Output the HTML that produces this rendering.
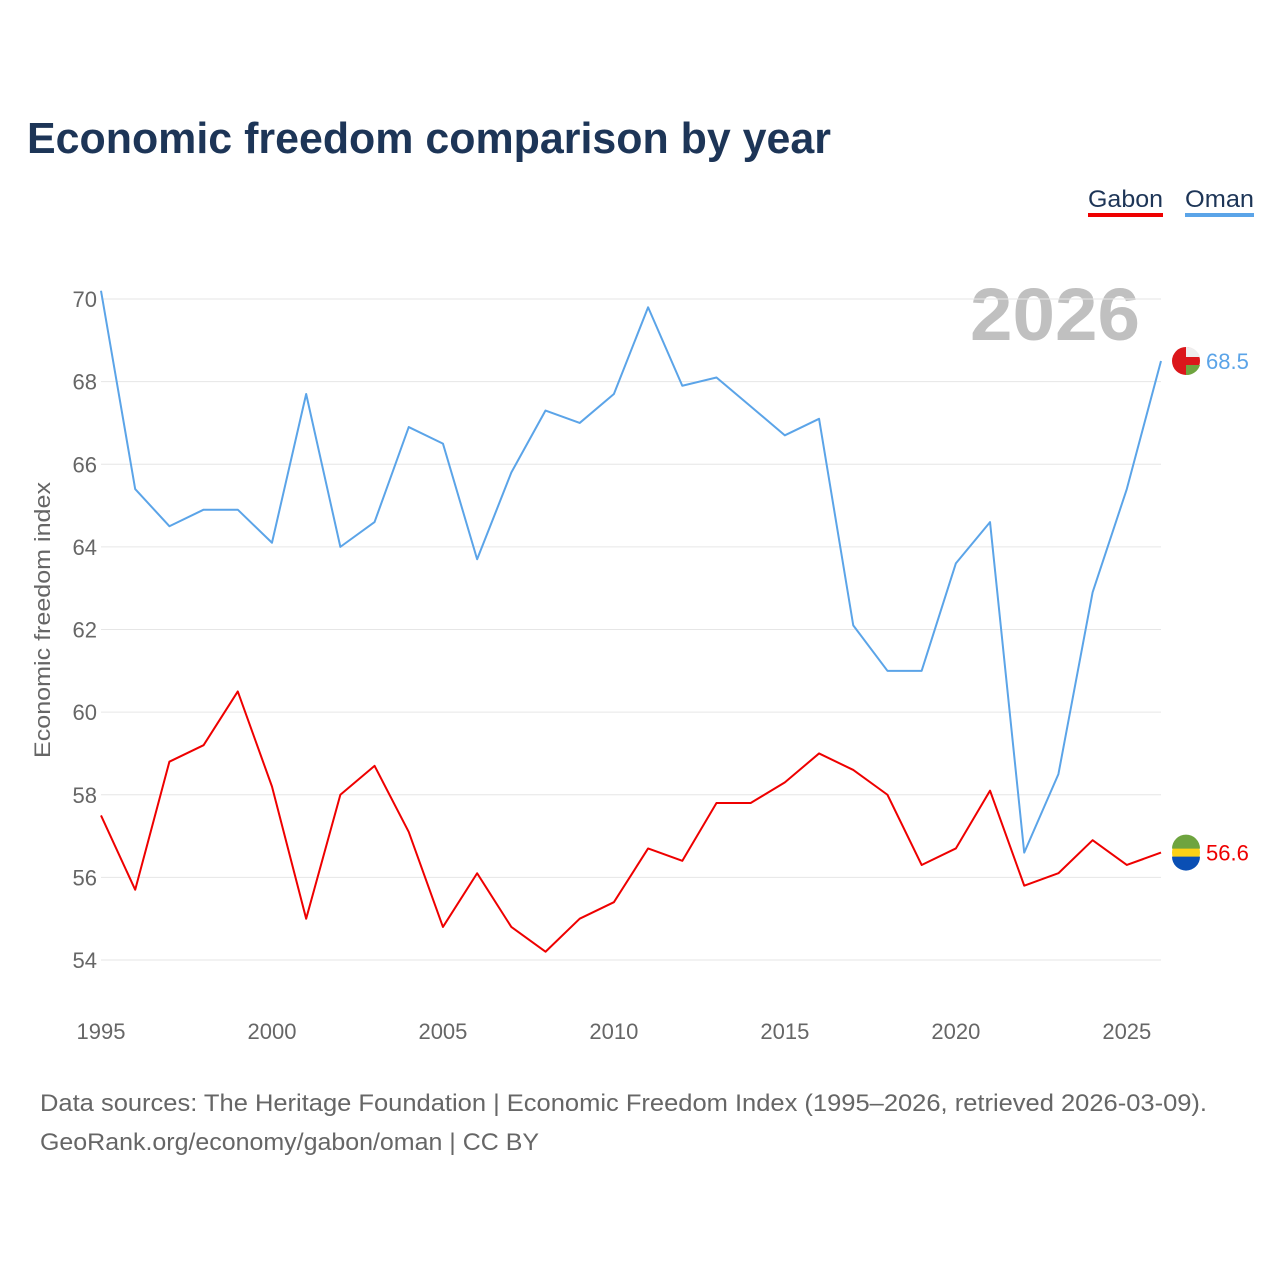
<!DOCTYPE html>
<html><head><meta charset="utf-8"><style>
body{margin:0;background:#fff;font-family:"Liberation Sans",sans-serif}
svg{display:block}
</style></head><body>
<svg id="chart" width="1280" height="1280">
<text x="27" y="153" font-size="44" font-weight="bold" fill="#1d3557" textLength="804" lengthAdjust="spacingAndGlyphs">Economic freedom comparison by year</text>
<g>
<text x="1088" y="207" font-size="24" fill="#1d3557" textLength="75" lengthAdjust="spacingAndGlyphs">Gabon</text>
<rect x="1088" y="213" width="75" height="4" fill="#ee0000"/>
<text x="1185" y="207" font-size="24" fill="#1d3557" textLength="69" lengthAdjust="spacingAndGlyphs">Oman</text>
<rect x="1185" y="213" width="69" height="4" fill="#5ba4e8"/>
</g>
<text x="970" y="340" font-size="74" font-weight="bold" fill="#c0c0c0" textLength="170" lengthAdjust="spacingAndGlyphs">2026</text>
<text transform="translate(50,620) rotate(-90)" text-anchor="middle" font-size="22" fill="#666" textLength="276" lengthAdjust="spacingAndGlyphs">Economic freedom index</text>
<g id="grid"></g><g id="series"></g>
<text x="40" y="1111" font-size="24" fill="#666" textLength="1167" lengthAdjust="spacingAndGlyphs">Data sources: The Heritage Foundation | Economic Freedom Index (1995–2026, retrieved 2026-03-09).</text>
<text x="40" y="1150" font-size="24" fill="#666" textLength="499" lengthAdjust="spacingAndGlyphs">GeoRank.org/economy/gabon/oman | CC BY</text>
</svg>
<script>
const years=[1995,1996,1997,1998,1999,2000,2001,2002,2003,2004,2005,2006,2007,2008,2009,2010,2011,2012,2013,2014,2015,2016,2017,2018,2019,2020,2021,2022,2023,2024,2025,2026];
const omanValues=[70.2,65.4,64.5,64.9,64.9,64.1,67.7,64.0,64.6,66.9,66.5,63.7,65.8,67.3,67.0,67.7,69.8,67.9,68.1,67.4,66.7,67.1,62.1,61.0,61.0,63.6,64.6,56.6,58.5,62.9,65.4,68.5];
const gabonValues=[57.5,55.7,58.8,59.2,60.5,58.2,55.0,58.0,58.7,57.1,54.8,56.1,54.8,54.2,55.0,55.4,56.7,56.4,57.8,57.8,58.3,59.0,58.6,58.0,56.3,56.7,58.1,55.8,56.1,56.9,56.3,56.6];
const yTicks=[54,56,58,60,62,64,66,68,70];
const xTicks=[1995,2000,2005,2010,2015,2020,2025];
const NS="http://www.w3.org/2000/svg";
const x=v=>101+(v-1995)*(1161-101)/31;
const y=v=>960-(v-54)*(960-299)/16;
function mk(t,a,p){const e=document.createElementNS(NS,t);for(const k in a)e.setAttribute(k,a[k]);p.appendChild(e);return e;}
const grid=document.getElementById('grid'),ser=document.getElementById('series');
yTicks.forEach(t=>{
 const l=mk('line',{x1:101,x2:1161,y1:y(t),y2:y(t),stroke:'#e6e6e6','stroke-width':1},grid);
 
 
 const tx=mk('text',{x:97,y:y(t)+8,'text-anchor':'end','font-size':22,fill:'#666'},grid);tx.textContent=t;
 
 
});
xTicks.forEach(t=>{
 const tx=mk('text',{x:x(t),y:1039,'text-anchor':'middle','font-size':22,fill:'#666'},grid);tx.textContent=t;
 
 
});
function line(vals,color,name){
 const p=mk('polyline',{points:vals.map((v,i)=>x(years[i])+','+y(v)).join(' '),fill:'none',stroke:color,'stroke-width':2,'stroke-linejoin':'round'},ser);
 
 
 const last=vals[vals.length-1],ly=y(last);
 const t=mk('text',{x:1206,y:ly+8,'font-size':22,fill:color},ser);t.textContent=last.toFixed(1);
 
 
 return ly;
}
const oy=line(omanValues,'#5ba4e8','oman');
const gy=line(gabonValues,'#ee0000','gabon');
let g=mk('g',{},ser);


mk('circle',{cx:1186,cy:oy,r:14,fill:'#db161b'},g);
mk('path',{d:`M1186 ${oy-14} A14 14 0 0 1 1200 ${oy-4} L1186 ${oy-4}Z`,fill:'#eee'},g);
mk('path',{d:`M1186 ${oy+4} L1200 ${oy+4} A14 14 0 0 1 1186 ${oy+14}Z`,fill:'#6ea43f'},g);
g=mk('g',{},ser);


mk('circle',{cx:1186,cy:gy,r:14,fill:'#fcd116'},g);
mk('path',{d:`M1172 ${gy-4} A14 14 0 0 1 1200 ${gy-4}Z`,fill:'#6ea43f'},g);
mk('path',{d:`M1172 ${gy+4} L1200 ${gy+4} A14 14 0 0 1 1172 ${gy+4}Z`,fill:'#0a4fb4'},g);
</script>
</body></html>
